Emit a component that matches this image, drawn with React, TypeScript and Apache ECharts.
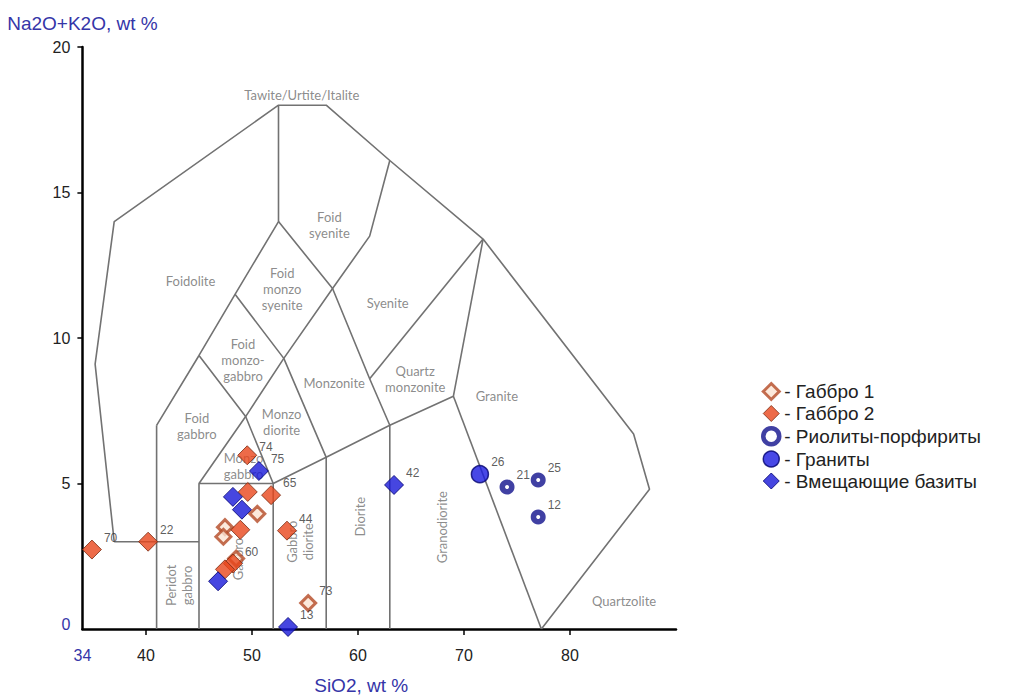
import React, { useEffect, useRef } from "react";
import * as echarts from "echarts";

// Axis ticks / labels
const xTicks = [40, 50, 60, 70, 80];
const xLabels = [34, 40, 50, 60, 70, 80];
const yTicks = [5, 10, 15, 20];
const yLabels = [0, 5, 10, 15, 20];

// Classification diagram boundaries (SiO2, Na2O+K2O)
const outerBoundary = [[37, 3], [35.2, 9.1], [37, 14], [52.5, 18], [57, 18], [63, 16.1], [71.8, 13.4], [86, 6.7], [87.5, 4.8], [77.3, 0]];
const line3 = [[37, 3], [45, 3]];
const line41 = [[41, 0], [41, 7]];
const foidoliteInner = [[41, 7], [45, 9.4], [48.4, 11.5], [52.5, 14], [52.5, 18]];
const gabbroBox = [[45, 0], [45, 5], [52, 5]];
const lineA = [[45, 5], [49.4, 7.3], [53, 9.3], [57.6, 11.7], [61.1, 13.5], [63, 16.1]];
const lineB = [[45, 9.4], [49.4, 7.3], [52, 5], [52, 0]];
const lineC = [[48.4, 11.5], [53, 9.3], [57, 5.9], [57, 0]];
const lineD = [[52.5, 14], [57.6, 11.7], [61.1, 8.6], [63, 7], [63, 0]];
const lineE = [[52, 5], [57, 5.9], [63, 7], [69, 8], [71.8, 13.4]];
const lineF = [[61.1, 8.6], [71.8, 13.4]];
const lineG = [[69, 8], [77.3, 0]];
const boundaries = [outerBoundary, line3, line41, foidoliteInner, gabbroBox, lineA, lineB, lineC, lineD, lineE, lineF, lineG];

// Field names
const fieldNames = [
  "Tawite/Urtite/Italite", "Foid\nsyenite", "Foidolite", "Foid\nmonzo\nsyenite", "Syenite",
  "Foid\nmonzo-\ngabbro", "Foid\ngabbro", "Monzo\ndiorite", "Monzo\ngabbro", "Monzonite",
  "Quartz\nmonzonite", "Granite", "Diorite", "Granodiorite", "Gabbro\ndiorite",
  "Peridot\ngabbro", "Quartzolite", "Gabbro",
];
const fieldX = [54.7, 57.3, 44.2, 52.85, 62.8, 49.15, 44.8, 52.8, 49.2, 57.75, 65.4, 73.1, 60.2, 67.9, 54.5, 43.1, 85.1, 48.7];
const fieldY = [18.35, 13.9, 11.95, 11.7, 11.2, 9.25, 6.96, 7.1, 5.6, 8.46, 8.6, 8.0, 3.86, 3.5, 3.0, 1.5, 0.96, 2.4];
const fieldRotate = [0, 0, 0, 0, 0, 0, 0, 0, 0, 0, 0, 0, 90, 90, 90, 90, 0, 90];

// Samples
const gabbro1X = [50.5, 47.45, 47.3, 48.5, 55.3];
const gabbro1Y = [3.96, 3.5, 3.17, 2.42, 0.89];
const gabbro1Labels = ["", "", "", "", "73"];

const gabbro2X = [34.9, 40.2, 49.55, 49.6, 51.8, 48.9, 53.3, 48.2, 47.45];
const gabbro2Y = [2.73, 3.0, 5.97, 4.71, 4.6, 3.41, 3.38, 2.25, 2.05];
const gabbro2Labels = ["70", "22", "74", "", "65", "", "44", "60", ""];

const rhyoliteX = [74.06, 77.0, 77.0];
const rhyoliteY = [4.88, 5.12, 3.85];
const rhyoliteLabels = ["21", "25", "12"];

const graniteX = [71.5];
const graniteY = [5.32];
const graniteLabels = ["26"];

const basiteX = [50.65, 48.2, 49.05, 46.8, 53.4, 63.4];
const basiteY = [5.43, 4.54, 4.1, 1.64, 0.07, 4.95];
const basiteLabels = ["75", "", "", "", "13", "42"];

const seriesNames = ["Габбро 1", "Габбро 2", "Риолиты-порфириты", "Граниты", "Вмещающие базиты"];

const BLUE_TEXT = "#3535a8";
const FONT = "Liberation Sans, Arial, sans-serif";

function pts(xs: number[], ys: number[], labels: string[]) {
  return xs.map((x, i) => {
    const item: any = { value: [x, ys[i]], name: labels[i] };
    if (labels[i] === "74") item.label = { offset: [0, -8] };
    return item;
  });
}

const pointLabel = {
  show: true,
  position: "right",
  distance: 2,
  offset: [0, -12],
  formatter: (p: any) => p.name,
  fontSize: 12,
  fontFamily: FONT,
  color: "#333",
};

const styles: any[] = [
  { symbol: "diamond", symbolSize: 15, itemStyle: { color: "#fbe3d2", borderColor: "#b44a26", borderWidth: 3 } },
  { symbol: "diamond", symbolSize: 19, itemStyle: { color: "#e8461c", borderColor: "#7a2a10", borderWidth: 1 } },
  { symbol: "circle", symbolSize: 9.5, itemStyle: { color: "#ffffff", borderColor: "#10108c", borderWidth: 5.5 } },
  { symbol: "circle", symbolSize: 17, itemStyle: { color: "#1a1ae0", borderColor: "#00006e", borderWidth: 1.5 } },
  { symbol: "diamond", symbolSize: 19, itemStyle: { color: "#1818d8", borderColor: "#000070", borderWidth: 1 } },
];

const legendStyles: any[] = [
  { color: "#fbe3d2", borderColor: "#b44a26", borderWidth: 3 },
  { color: "#e8461c", borderColor: "#7a2a10", borderWidth: 1 },
  { color: "#ffffff", borderColor: "#10108c", borderWidth: 4.5 },
  { color: "#1a1ae0", borderColor: "#00006e", borderWidth: 1.5 },
  { color: "#1818d8", borderColor: "#000070", borderWidth: 1 },
];

export default function App() {
  const ref = useRef<HTMLDivElement>(null);

  useEffect(() => {
    if (!ref.current) return;
    const chart = echarts.init(ref.current, null, { renderer: "svg" });

    const lineSeries = boundaries.map((b, i) => ({
      type: "line",
      name: "boundary" + i,
      data: b,
      symbol: "none",
      silent: true,
      z: 1,
      lineStyle: { color: "#727272", width: 1.6 },
      clip: false,
    }));

    const fieldSeries = {
      type: "scatter",
      name: "fields",
      silent: true,
      symbolSize: 0,
      z: 1,
      clip: false,
      data: fieldNames.map((n, i) => ({
        value: [fieldX[i], fieldY[i]],
        name: n,
        label: { rotate: fieldRotate[i] },
      })),
      label: {
        show: true,
        position: "inside",
        formatter: (p: any) => p.name,
        fontSize: 13,
        lineHeight: 16,
        fontFamily: "Lato, 'Open Sans', sans-serif",
        color: "#6e6e6e",
        align: "center",
        verticalAlign: "middle",
      },
    };

    const sampleData = [
      pts(gabbro1X, gabbro1Y, gabbro1Labels),
      pts(gabbro2X, gabbro2Y, gabbro2Labels),
      pts(rhyoliteX, rhyoliteY, rhyoliteLabels),
      pts(graniteX, graniteY, graniteLabels),
      pts(basiteX, basiteY, basiteLabels),
    ];

    const sampleSeries = seriesNames.map((name, i) => ({
      type: "scatter",
      name,
      data: sampleData[i],
      clip: false,
      z: 3,
      ...styles[i],
      label: pointLabel,
    }));

    chart.setOption({
      animation: false,
      backgroundColor: "#ffffff",
      grid: { left: 82.4, top: 47, width: 593.6, height: 586 },
      legend: {
        orient: "vertical",
        left: 756,
        top: 377,
        itemGap: 3,
        itemWidth: 16,
        itemHeight: 16,
        selectedMode: false,
        formatter: "- {name}",
        textStyle: { fontSize: 19, fontFamily: FONT, color: "#222" },
        data: seriesNames.map((n, i) => ({ name: n, icon: styles[i].symbol, itemStyle: legendStyles[i] })),
      },
      xAxis: {
        type: "value",
        min: 34,
        max: 90,
        name: "SiO2, wt %",
        nameLocation: "middle",
        nameGap: 47,
        nameTextStyle: { color: BLUE_TEXT, fontSize: 19, fontFamily: FONT, padding: [0, 36, 0, 0] },
        splitLine: { show: false },
        axisLine: { onZero: false, lineStyle: { color: "#000", width: 2.5 } },
        axisTick: { show: true, customValues: xTicks, length: 6, lineStyle: { color: "#000", width: 1.5 } },
        axisLabel: {
          customValues: xLabels,
          margin: 18,
          fontSize: 16,
          fontFamily: FONT,
          color: (v: any) => (Number(v) === 34 ? BLUE_TEXT : "#222"),
        },
      },
      yAxis: {
        type: "value",
        min: 0,
        max: 20,
        name: "Na2O+K2O, wt %",
        nameLocation: "end",
        nameGap: 14,
        nameTextStyle: { color: BLUE_TEXT, fontSize: 19, fontFamily: FONT, align: "center" },
        splitLine: { show: false },
        axisLine: { onZero: false, lineStyle: { color: "#000", width: 2.5 } },
        axisTick: { show: true, customValues: yTicks, length: 5, lineStyle: { color: "#000", width: 1.5 } },
        axisLabel: {
          customValues: yLabels,
          margin: 12,
          fontSize: 16,
          fontFamily: FONT,
          color: "#222",
          formatter: (v: any) => (Number(v) === 0 ? "{z|0}" : String(v)),
          rich: { z: { color: BLUE_TEXT, fontSize: 16, fontFamily: FONT, padding: [0, 0, 10, 0] } },
        },
      },
      series: [...lineSeries, fieldSeries, ...sampleSeries],
    });

    return () => chart.dispose();
  }, []);

  return (
    <div
      ref={ref}
      style={{ position: "fixed", left: 0, top: 0, width: 1032, height: 700, background: "#fff" }}
    />
  );
}
